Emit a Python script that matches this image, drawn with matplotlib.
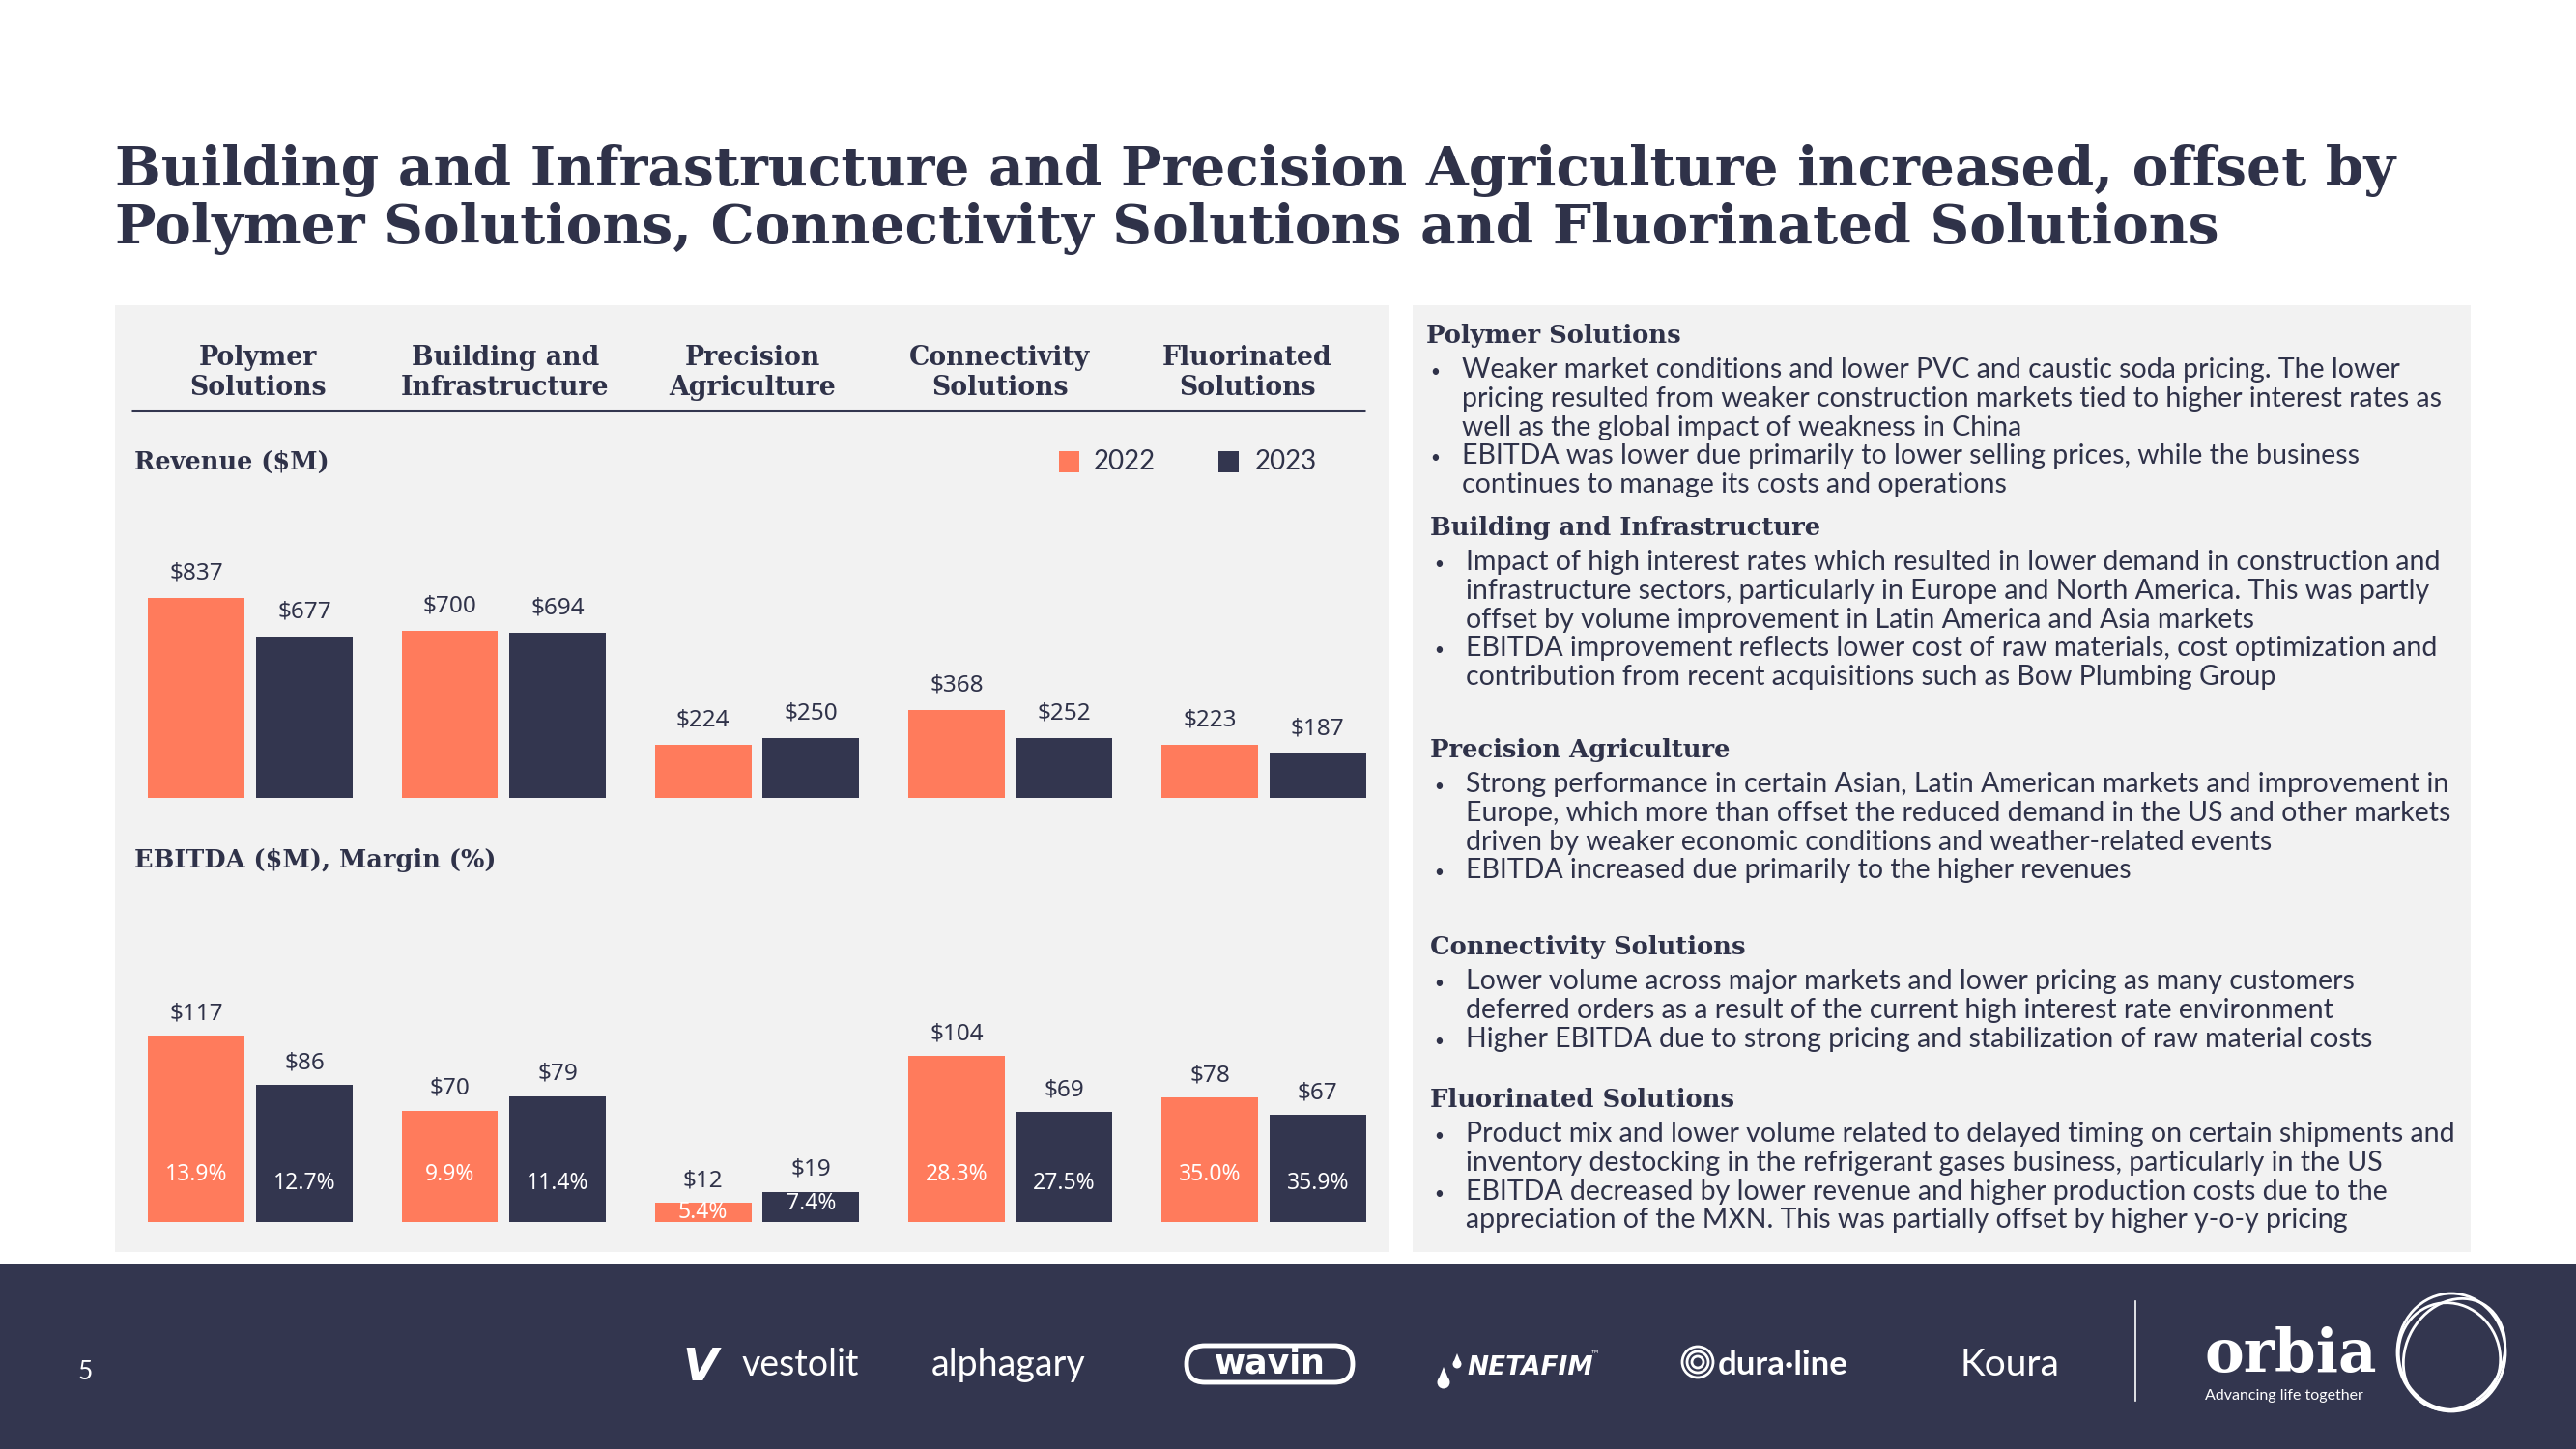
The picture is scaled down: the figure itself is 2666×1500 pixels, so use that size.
import matplotlib
matplotlib.use('Agg')
import matplotlib.pyplot as plt
from matplotlib.patches import Rectangle, Ellipse, Circle, Polygon, FancyBboxPatch

# ---------------- data ----------------
segments_line1 = ['Polymer', 'Building and', 'Precision', 'Connectivity', 'Fluorinated']
segments_line2 = ['Solutions', 'Infrastructure', 'Agriculture', 'Solutions', 'Solutions']
years = ['2022', '2023']
revenue_2022 = [837, 700, 224, 368, 223]
revenue_2023 = [677, 694, 250, 252, 187]
ebitda_2022 = [117, 70, 12, 104, 78]
ebitda_2023 = [86, 79, 19, 69, 67]
margin_2022 = [13.9, 9.9, 5.4, 28.3, 35.0]
margin_2023 = [12.7, 11.4, 7.4, 27.5, 35.9]

title_lines = ['Building and Infrastructure and Precision Agriculture increased, offset by',
               'Polymer Solutions, Connectivity Solutions and Fluorinated Solutions']
section_titles = ['Polymer Solutions', 'Building and Infrastructure', 'Precision Agriculture',
                  'Connectivity Solutions', 'Fluorinated Solutions']
section_bullets = [
    [['Weaker market conditions and lower PVC and caustic soda pricing. The lower',
      'pricing resulted from weaker construction markets tied to higher interest rates as',
      'well as the global impact of weakness in China'],
     ['EBITDA was lower due primarily to lower selling prices, while the business',
      'continues to manage its costs and operations']],
    [['Impact of high interest rates which resulted in lower demand in construction and',
      'infrastructure sectors, particularly in Europe and North America. This was partly',
      'offset by volume improvement in Latin America and Asia markets'],
     ['EBITDA improvement reflects lower cost of raw materials, cost optimization and',
      'contribution from recent acquisitions such as Bow Plumbing Group']],
    [['Strong performance in certain Asian, Latin American markets and improvement in',
      'Europe, which more than offset the reduced demand in the US and other markets',
      'driven by weaker economic conditions and weather-related events'],
     ['EBITDA increased due primarily to the higher revenues']],
    [['Lower volume across major markets and lower pricing as many customers',
      'deferred orders as a result of the current high interest rate environment'],
     ['Higher EBITDA due to strong pricing and stabilization of raw material costs']],
    [['Product mix and lower volume related to delayed timing on certain shipments and',
      'inventory destocking in the refrigerant gases business, particularly in the US'],
     ['EBITDA decreased by lower revenue and higher production costs due to the',
      'appreciation of the MXN. This was partially offset by higher y-o-y pricing']],
]
page_number = '5'

# ---------------- style ----------------
ORANGE = '#FF7B5C'
NAVY = '#33364F'
PANEL = '#F2F2F2'
TEXT = '#2F3249'
SERIF = ['DejaVu Serif']
SANS = ['Lato', 'DejaVu Sans']
NUM = ['Noto Sans', 'DejaVu Sans']

W, H = 2666, 1500
fig = plt.figure(figsize=(W / 100, H / 100), dpi=100)
fig.patch.set_facecolor('white')
renderer = fig.canvas.get_renderer()

bg = fig.add_axes([0, 0, 1, 1])
bg.set_xlim(0, W)
bg.set_ylim(H, 0)
bg.axis('off')
bg.set_zorder(0)


def fit(t, target):
    w = t.get_window_extent(renderer).width
    t.set_fontsize(t.get_fontsize() * target / w)
    return t.get_fontsize()


def px_axes(x0, y0, x1, y1):
    return fig.add_axes([x0 / W, 1 - y1 / H, (x1 - x0) / W, (y1 - y0) / H])


# panels
bg.add_patch(Rectangle((119, 316), 1438 - 119, 1296 - 316, color=PANEL, lw=0))
bg.add_patch(Rectangle((1462, 316), 2557 - 1462, 1296 - 316, color=PANEL, lw=0))
bg.add_patch(Rectangle((0, 1309), W, H - 1309, color=NAVY, lw=0))

# title
t1 = bg.text(119, 192, title_lines[0], family=SERIF, weight='bold', color=TEXT,
             fontsize=40, va='baseline', ha='left')
tsize = fit(t1, 2355)
bg.text(119, 252, title_lines[1], family=SERIF, weight='bold', color=TEXT,
        fontsize=tsize, va='baseline', ha='left')

# category headers
probe = bg.text(0, 0, 'Infrastructure', family=SERIF, weight='bold', fontsize=18)
hsize = fit(probe, 215)
probe.remove()
for i, (a, b) in enumerate(zip(segments_line1, segments_line2)):
    cx = 267 + 256 * i
    bg.text(cx, 378, a, family=SERIF, weight='bold', color=TEXT, fontsize=hsize,
            ha='center', va='baseline')
    bg.text(cx, 409, b, family=SERIF, weight='bold', color=TEXT, fontsize=hsize,
            ha='center', va='baseline')
bg.plot([136, 1413], [425, 425], color=NAVY, lw=2.2, solid_capstyle='butt')

# section labels in left panel
rl = bg.text(139, 486, 'Revenue ($M)', family=SERIF, weight='bold', color=TEXT,
             fontsize=18, va='baseline', ha='left')
lsize = fit(rl, 202)
bg.text(139, 898, 'EBITDA ($M), Margin (%)', family=SERIF, weight='bold', color=TEXT,
        fontsize=lsize, va='baseline', ha='left')

# legend (manual)
for (sx, tx), col, yr in zip([(1096, 1132), (1261, 1299)], [ORANGE, NAVY], years):
    bg.add_patch(Rectangle((sx, 467), 21, 22, color=col, lw=0))
    bg.text(tx, 486, yr, family=SANS, color=TEXT, fontsize=20, va='baseline', ha='left')

# ---------------- bar charts ----------------
xs = list(range(len(revenue_2022)))
off, bw = 0.213, 0.381
LBL = 17.5


def style_ax(ax):
    ax.set_facecolor('none')
    ax.set_xlim(-0.5, 4.5)
    for s in ax.spines.values():
        s.set_visible(False)
    ax.set_xticks([])
    ax.set_yticks([])
    ax.set_zorder(2)


rev_ax = px_axes(128, 560, 1439, 826)
style_ax(rev_ax)
rev_ax.set_ylim(0, 266 / 0.247)
rev_ax.bar([x - off for x in xs], revenue_2022, width=bw, color=ORANGE, lw=0)
rev_ax.bar([x + off for x in xs], revenue_2023, width=bw, color=NAVY, lw=0)
for x, v in zip(xs, revenue_2022):
    rev_ax.annotate(f'${v}', (x - off, v), xytext=(0, 14), textcoords='offset points',
                    ha='center', va='baseline', family=NUM, fontsize=LBL, color=TEXT,
                    weight='medium')
for x, v in zip(xs, revenue_2023):
    rev_ax.annotate(f'${v}', (x + off, v), xytext=(0, 14), textcoords='offset points',
                    ha='center', va='baseline', family=NUM, fontsize=LBL, color=TEXT,
                    weight='medium')

eb_ax = px_axes(128, 1000, 1439, 1265)
style_ax(eb_ax)
eb_ax.set_ylim(0, 265 / 1.65)
eb_ax.bar([x - off for x in xs], ebitda_2022, width=bw, color=ORANGE, lw=0)
eb_ax.bar([x + off for x in xs], ebitda_2023, width=bw, color=NAVY, lw=0)
for x, v, m in zip(xs, ebitda_2022, margin_2022):
    eb_ax.annotate(f'${v}', (x - off, v), xytext=(0, 12), textcoords='offset points',
                   ha='center', va='baseline', family=NUM, fontsize=LBL, color=TEXT,
                   weight='medium')
    eb_ax.text(x - off, min(30, v * 0.5), f'{m:.1f}%', ha='center', va='center',
               family=NUM, fontsize=LBL - 1, color='white')
for x, v, m in zip(xs, ebitda_2023, margin_2023):
    eb_ax.annotate(f'${v}', (x + off, v), xytext=(0, 12), textcoords='offset points',
                   ha='center', va='baseline', family=NUM, fontsize=LBL, color=TEXT,
                   weight='medium')
    eb_ax.text(x + off, min(24, v * 0.6), f'{m:.1f}%', ha='center', va='center',
               family=NUM, fontsize=LBL - 1, color='white')

# ---------------- right commentary ----------------
probe = bg.text(0, 0, section_bullets[0][0][0], family=SANS, fontsize=18)
bsize = fit(probe, 968)
probe.remove()
probe = bg.text(0, 0, section_titles[1], family=SERIF, weight='bold', fontsize=18)
ssize = fit(probe, 405)
probe.remove()

header_base = [355, 554, 784, 988, 1146]
xshift = [0, 4, 4, 4, 4]
for title, bullets, hb, dx in zip(section_titles, section_bullets, header_base, xshift):
    bg.text(1476 + dx, hb, title, family=SERIF, weight='bold', color=TEXT,
            fontsize=ssize, va='baseline', ha='left')
    y = hb + 36
    for bullet in bullets:
        bg.text(1480 + dx, y - 1, '•', family=SANS, color=TEXT, fontsize=bsize * 0.6,
                va='baseline', ha='left')
        for line in bullet:
            bg.text(1513 + dx, y, line, family=SANS, color=TEXT, fontsize=bsize,
                    va='baseline', ha='left')
            y += 29.8

# ---------------- footer ----------------
bg.text(88, 1428, page_number, family=SANS, color='white', fontsize=19,
        ha='center', va='baseline')
bg.text(706, 1429, 'V', family=['DejaVu Sans'], weight='bold', style='italic',
        color='white', fontsize=34, ha='left', va='baseline')
bg.text(768, 1424, 'vestolit', family=SANS, color='white', fontsize=27,
        ha='left', va='baseline')
bg.text(964, 1424, 'alphagary', family=SANS, color='white', fontsize=27,
        ha='left', va='baseline')
bg.add_patch(FancyBboxPatch((1228, 1393), 172, 38,
                            boxstyle='round,pad=0,rounding_size=19',
                            fc='none', ec='white', lw=3.5))
bg.text(1314, 1412, 'wavin', family=['DejaVu Sans'], weight='bold', color='white',
        fontsize=25, ha='center', va='center')
# netafim drops
bg.add_patch(Polygon([(1494, 1415), (1488, 1430), (1500, 1430)], color='white', lw=0))
bg.add_patch(Circle((1494, 1431), 6.5, color='white', lw=0))
bg.add_patch(Polygon([(1508, 1401), (1504, 1411), (1512, 1411)], color='white', lw=0))
bg.add_patch(Circle((1508, 1412), 4.5, color='white', lw=0))
bg.text(1518, 1423, 'NETAFIM', family=['DejaVu Sans'], weight='bold', style='italic',
        color='white', fontsize=19, ha='left', va='baseline')
bg.text(1646, 1404, '™', family=['DejaVu Sans'], color='white', fontsize=7,
        ha='left', va='baseline')
for r in [16, 11, 6]:
    bg.add_patch(Circle((1757, 1410), r, fc='none', ec='white', lw=2))
bg.text(1778, 1423, 'dura·line', family=SANS, weight='bold', color='white',
        fontsize=25, ha='left', va='baseline')
bg.text(2028, 1424, 'Koura', family=SANS, color='white', fontsize=28,
        ha='left', va='baseline')
bg.plot([2210, 2210], [1347, 1450], color='white', lw=1.2)
bg.text(2282, 1420, 'orbia', family=SERIF, weight='bold', color='white', fontsize=44,
        ha='left', va='baseline')
bg.text(2282, 1449, 'Advancing life together', family=SANS, color='white', fontsize=11.5,
        ha='left', va='baseline')
for (ang, w, h, dx, dy) in [(0, 112, 122, 0, 0), (30, 100, 120, 3, 2), (-25, 104, 112, -2, 4)]:
    bg.add_patch(Ellipse((2537 + dx, 1400 + dy), w, h, angle=ang, fc='none',
                         ec='white', lw=2))

fig.savefig('out.png', dpi=100, facecolor=fig.get_facecolor())
